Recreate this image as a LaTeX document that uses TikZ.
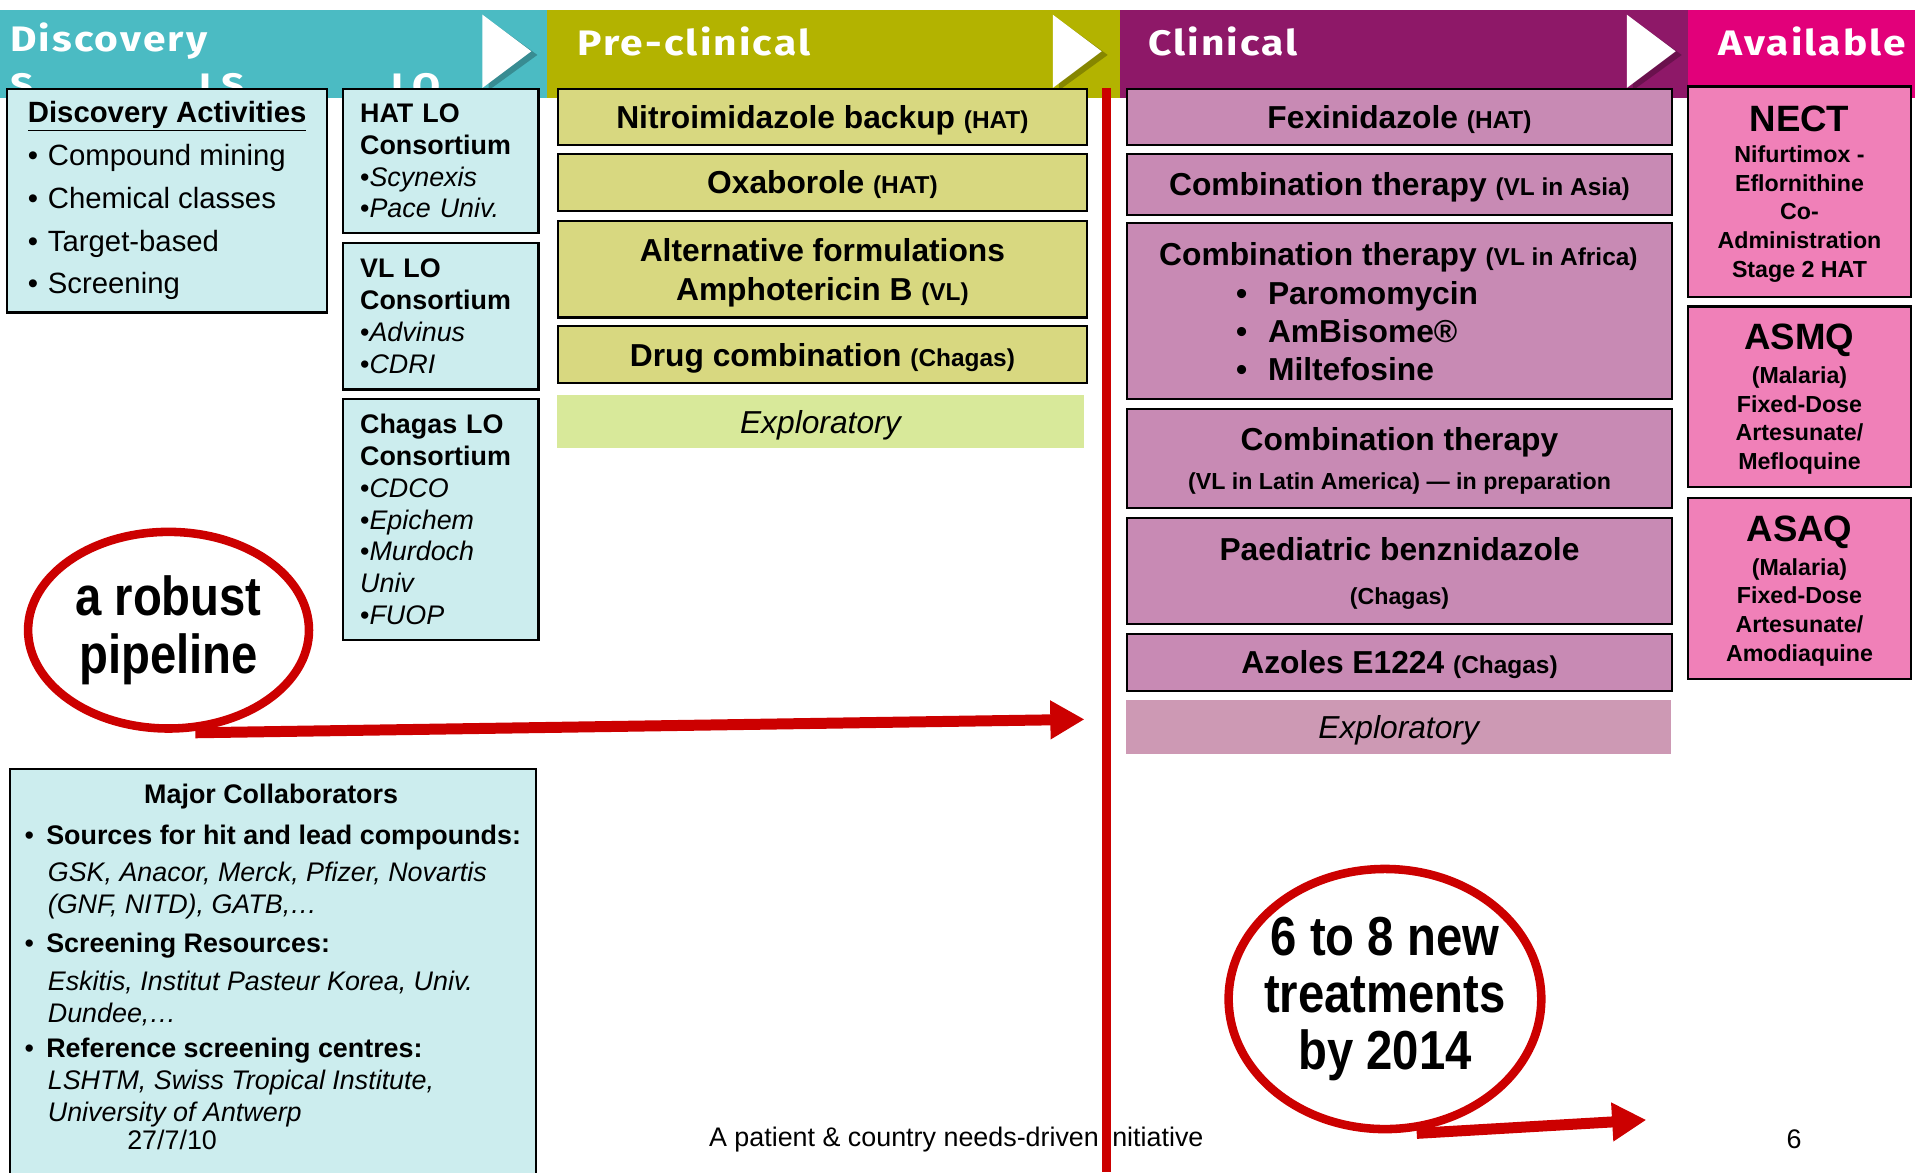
\documentclass[tikz,border=0pt]{standalone}
\usepackage{fontspec}
\setmainfont{Liberation Sans}
\newfontfamily\titrefont{Fira Sans}[LetterSpace=6,FakeStretch=1.15]
\newfontfamily\etroitfont{Liberation Sans}[FakeStretch=0.86]
\usetikzlibrary{positioning,shapes.geometric,arrows.meta}

\definecolor{bleutete}{RGB}{75,187,195}
\definecolor{olivetete}{RGB}{179,179,0}
\definecolor{pourpretete}{RGB}{142,24,104}
\definecolor{rosetete}{RGB}{226,0,122}
\definecolor{cyanclair}{RGB}{204,237,238}
\definecolor{oliveclair}{RGB}{216,216,128}
\definecolor{vertclair}{RGB}{216,233,154}
\definecolor{mauveclair}{RGB}{200,138,180}
\definecolor{mauvepale}{RGB}{205,153,180}
\definecolor{roseclair}{RGB}{240,128,184}
\definecolor{rouge}{RGB}{204,0,0}

\newcommand{\parenth}[1]{{\fontsize{20}{24}\selectfont #1}}
\newcommand{\souslig}[1]{{\fontsize{19}{23}\selectfont #1}}

\begin{document}
\begin{tikzpicture}[x=1pt, y=-1pt,
  boite/.style={draw=black, line width=1.8pt, inner sep=0pt, align=center},
  boitecyan/.style={boite, fill=cyanclair, anchor=north west, align=left, font=\fontsize{22}{26}\selectfont},
  boiteolive/.style={boite, fill=oliveclair, anchor=north west, minimum width=433pt, text depth=0pt, font=\fontsize{26}{32}\selectfont\bfseries},
  boitemauve/.style={boite, fill=mauveclair, anchor=north west, minimum width=446pt, text depth=0pt, font=\fontsize{26}{32}\selectfont\bfseries},
  boiterose/.style={boite, fill=roseclair, anchor=north west, minimum width=183pt, text depth=0pt, font=\fontsize{19}{23.5}\selectfont\bfseries},
  explo/.style={anchor=north west, inner sep=0pt, text depth=0pt, font=\fontsize{26}{32}\selectfont\itshape},
  titre/.style={anchor=west, inner sep=0pt, text=white, font=\titrefont\fontsize{29}{32}\selectfont\bfseries},
  bulle/.style={ellipse, draw=rouge, line width=7pt, fill=white, inner sep=-20pt, align=center, font=\etroitfont\fontsize{45}{47}\selectfont\bfseries},
  fleche/.style={draw=rouge, line width=9pt, -{Triangle[length=28pt,width=30pt]}}]
  \useasboundingbox (0,0) rectangle (1568,960);

  % bandeau des phases
  \fill[bleutete] (0,8) rectangle (448,80);
  \fill[olivetete] (448,8) rectangle (917,80);
  \fill[pourpretete] (917,8) rectangle (1382,80);
  \fill[rosetete] (1382,8) rectangle (1568,80);
  \foreach \x in {395,862,1332}{
    \fill[black, opacity=0.25] (\x+5,16) -- (\x+45,45) -- (\x+5,74) -- cycle;
    \fill[white] (\x,12) -- (\x+40,42) -- (\x,72) -- cycle;
  }
  \node[titre] (tdisc) at (8,34) {Discovery};
  \node[titre] (tpre) at (473,34) {Pre-clinical};
  \node[titre] (tclin) at (940,34) {Clinical};
  \node[titre] (tdispo) at (1407,34) {Available};
  \node[titre] (ts) at (8,71) {S};
  \node[titre] (tls) at (163,71) {LS};
  \node[titre] (tlo) at (320,71) {LO};

  % colonne decouverte
  \node[boitecyan, minimum width=262pt, minimum height=183pt, font=\fontsize{24}{35}\selectfont] (activites) at (5,72)
    {\underline{\textbf{Discovery Activities}}\\
     \textbullet\hspace{8pt}Compound mining\\
     \textbullet\hspace{8pt}Chemical classes\\
     \textbullet\hspace{8pt}Target-based\\
     \textbullet\hspace{8pt}Screening};
  \node[boitecyan, minimum width=160pt, minimum height=118pt, text width=132pt] (hatlo) at (280,72)
    {\textbf{HAT LO}\\\textbf{Consortium}\\\textbullet\textit{Scynexis}\\\textbullet\textit{Pace Univ.}};
  \node[boitecyan, minimum width=160pt, minimum height=120pt, text width=132pt] (vllo) at (280,198)
    {\textbf{VL LO}\\\textbf{Consortium}\\\textbullet\textit{Advinus}\\\textbullet\textit{CDRI}};
  \node[boitecyan, minimum width=160pt, minimum height=197pt, text width=132pt] (chagaslo) at (280,326)
    {\textbf{Chagas LO}\\\textbf{Consortium}\\\textbullet\textit{CDCO}\\\textbullet\textit{Epichem}\\\textbullet\textit{Murdoch}\\\textit{Univ}\\\textbullet\textit{FUOP}};

  % colonne pre-clinique
  \node[boiteolive, minimum height=46pt] (nitro) at (456,72) {Nitroimidazole backup \parenth{(HAT)}};
  \node[boiteolive, minimum height=47pt] (oxa) at (456,125) {Oxaborole \parenth{(HAT)}};
  \node[boiteolive, minimum height=79pt] (ampho) at (456,180) {Alternative formulations\\Amphotericin B \parenth{(VL)}};
  \node[boiteolive, minimum height=47pt] (combi) at (456,266) {Drug combination \parenth{(Chagas)}};
  \node[explo, fill=vertclair, minimum width=431pt, minimum height=44pt] (explopre) at (456,323) {Exploratory};

  % colonne clinique
  \node[boitemauve, minimum height=46pt] (fexi) at (922,72) {Fexinidazole \parenth{(HAT)}};
  \node[boitemauve, minimum height=50pt] (asie) at (922,125) {Combination therapy \parenth{(VL in Asia)}};
  \node[boitemauve, minimum height=144pt] (afrique) at (922,182) {};
  \node[font=\fontsize{26}{32}\selectfont\bfseries, inner sep=0pt] (afrtitre) at (1145,211) {Combination therapy \parenth{(VL in Africa)}};
  \node[anchor=west, align=left, inner sep=0pt, font=\fontsize{26}{31}\selectfont\bfseries] (afrliste) at (1012,271)
    {\textbullet\hspace{17pt}Paromomycin\\\textbullet\hspace{17pt}AmBisome®\\\textbullet\hspace{17pt}Miltefosine};
  \node[boitemauve, minimum height=81pt] (latam) at (922,334) {Combination therapy\\[0pt]\souslig{(VL in Latin America) — in preparation}};
  \node[boitemauve, minimum height=87pt] (paed) at (922,423) {Paediatric benznidazole\\[4pt]\souslig{(Chagas)}};
  \node[boitemauve, minimum height=47pt] (azoles) at (922,518) {Azoles E1224 \parenth{(Chagas)}};
  \node[explo, fill=mauvepale, minimum width=446pt, minimum height=44pt] (exploclin) at (922,573) {Exploratory};

  % colonne disponible
  \node[boiterose, minimum height=172pt] (nect) at (1381,70)
    {{\fontsize{30}{30}\selectfont NECT}\\[2pt]Nifurtimox -\\Eflornithine\\Co-\\Administration\\Stage 2 HAT};
  \node[boiterose, minimum height=148pt] (asmq) at (1381,250)
    {{\fontsize{30}{30}\selectfont ASMQ}\\[4pt](Malaria)\\Fixed-Dose\\Artesunate/\\Mefloquine};
  \node[boiterose, minimum height=148pt] (asaq) at (1381,407)
    {{\fontsize{30}{30}\selectfont ASAQ}\\[4pt](Malaria)\\Fixed-Dose\\Artesunate/\\Amodiaquine};

  % collaborateurs
  \node[boite, fill=cyanclair, anchor=north west, minimum width=431pt, minimum height=346pt] (collab) at (7,629) {};
  \node[font=\fontsize{22}{26}\selectfont\bfseries, inner sep=0pt] (collabtitre) at (222,652) {Major Collaborators};
  \node[anchor=north west, align=left, inner sep=0pt, font=\fontsize{22}{26}\selectfont] (collabliste) at (20,675)
    {\textbullet\hspace{10pt}\textbf{Sources for hit and lead compounds:}\\[5pt]
     \hspace*{19pt}\textit{GSK, Anacor, Merck, Pfizer, Novartis}\\
     \hspace*{19pt}\textit{(GNF, NITD), GATB,…}\\[6pt]
     \textbullet\hspace{10pt}\textbf{Screening Resources:}\\[5pt]
     \hspace*{19pt}\textit{Eskitis, Institut Pasteur Korea, Univ.}\\
     \hspace*{19pt}\textit{Dundee,…}\\[3pt]
     \textbullet\hspace{10pt}\textbf{Reference screening centres:}\\
     \hspace*{19pt}\textit{LSHTM, Swiss Tropical Institute,}\\
     \hspace*{19pt}\textit{University of Antwerp}\\[-3pt]
     \hspace*{84pt}27/7/10};

  % pied de page
  \node[font=\fontsize{22}{26}\selectfont, inner sep=0pt] (pied) at (783,933) {A patient \& country needs-driven initiative};
  \node[font=\fontsize{22}{26}\selectfont, inner sep=0pt] (page) at (1469,933) {6};

  % ligne rouge
  \coordinate (haut) at (906,72);
  \coordinate (bas) at (906,960);
  \draw[rouge, line width=8pt] (haut) -- (bas);

  % bulles et fleches
  \node[bulle, minimum width=230pt, minimum height=161pt] (pipeline) at (138,516) {a robust\\pipeline};
  \node[bulle, minimum width=256pt, minimum height=213pt] (traitements) at (1134,818) {6 to 8 new\\treatments\\by 2014};
  \coordinate (fin1) at (888,589);
  \coordinate (fin2) at (1348,917);
  \draw[fleche] ([xshift=22pt]pipeline.south) -- (fin1);
  \draw[fleche] ([xshift=26pt]traitements.south) -- (fin2);
\end{tikzpicture}
\end{document}
